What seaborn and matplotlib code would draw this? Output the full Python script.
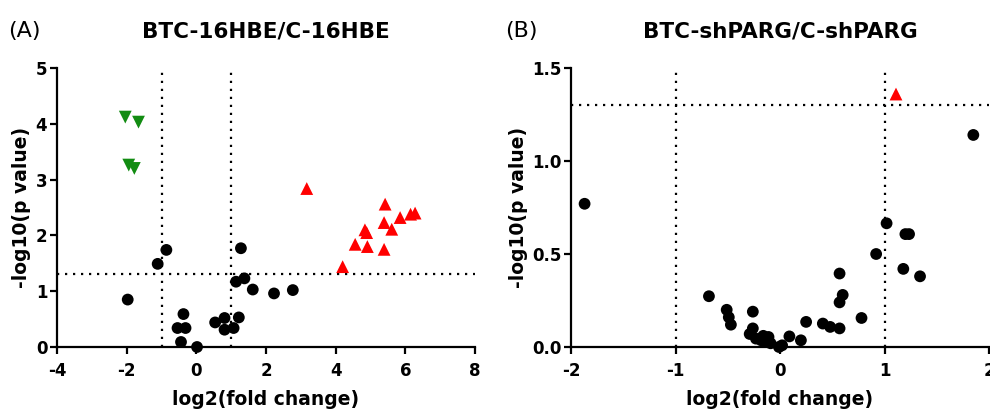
import matplotlib
matplotlib.use("Agg")
import matplotlib.pyplot as plt
import seaborn as sns
import pandas as pd

# panel A: BTC-16HBE / C-16HBE
a_down_x = [-2.04, -1.66, -1.94, -1.78]
a_down_y = [4.12, 4.03, 3.26, 3.20]
a_up_x = [3.17, 4.20, 4.56, 4.84, 4.89, 4.91, 5.42, 5.39, 5.39, 5.61, 5.85, 6.15, 6.28]
a_up_y = [2.84, 1.44, 1.84, 2.10, 2.05, 1.80, 2.56, 2.23, 1.75, 2.11, 2.32, 2.38, 2.40]
a_ns_x = [-1.97, -1.11, -0.86, -0.37, -0.54, -0.31, -0.44, 0.02, 0.54, 0.81,
          0.81, 1.07, 1.22, 1.14, 1.38, 1.28, 1.62, 2.23, 2.77]
a_ns_y = [0.85, 1.49, 1.74, 0.59, 0.34, 0.34, 0.09, 0.0, 0.44, 0.52,
          0.31, 0.34, 0.53, 1.17, 1.23, 1.77, 1.03, 0.96, 1.02]

# panel B: BTC-shPARG / C-shPARG
b_up_x = [1.11]
b_up_y = [1.36]
b_ns_x = [-1.87, 1.85, 1.02, 1.20, 1.235, 0.92, 1.18, 1.34, 0.57, 0.60, 0.57, 0.78,
          0.57, 0.41, 0.48, 0.25, 0.20, 0.09, 0.02, -0.01, -0.68, -0.51, -0.49,
          -0.47, -0.26, -0.26, -0.29, -0.23, -0.16, -0.11, -0.09, -0.13, -0.18]
b_ns_y = [0.77, 1.14, 0.665, 0.607, 0.607, 0.50, 0.42, 0.38, 0.395, 0.28, 0.24, 0.156,
          0.10, 0.126, 0.108, 0.135, 0.036, 0.057, 0.009, 0.0, 0.273, 0.20, 0.16,
          0.12, 0.19, 0.10, 0.07, 0.045, 0.06, 0.054, 0.02, 0.027, 0.036]


def make_df(groups):
    parts = []
    for name, xs, ys in groups:
        parts.append(pd.DataFrame({'fc': xs, 'p': ys, 'group': name}))
    return pd.concat(parts, ignore_index=True)


df_a = make_df([('ns', a_ns_x, a_ns_y), ('down', a_down_x, a_down_y), ('up', a_up_x, a_up_y)])
df_b = make_df([('ns', b_ns_x, b_ns_y), ('up', b_up_x, b_up_y)])

palette = {'ns': 'black', 'down': '#128c12', 'up': '#ff0000'}
markers = {'ns': 'o', 'down': 'v', 'up': '^'}
sizes = {'ns': 72, 'down': 85, 'up': 85}

sns.set_theme(style='ticks')
plt.rcParams['font.family'] = ['DejaVu Sans']
plt.rcParams['axes.linewidth'] = 1.6
plt.rcParams['axes.unicode_minus'] = False
for k in ['text.color', 'axes.labelcolor', 'xtick.color', 'ytick.color', 'axes.edgecolor']:
    plt.rcParams[k] = 'black'

fig = plt.figure(figsize=(9.9, 4.11), dpi=100)
ax1 = fig.add_axes([57 / 990, 1 - 347 / 411, 418 / 990, 279 / 411])
ax2 = fig.add_axes([571 / 990, 1 - 347 / 411, 418 / 990, 279 / 411])

dot = (0, (1, 2.6))


def panel(ax, df, xlim, xticks, ylim, yticks, yfmt, title, letter, letter_x):
    for g in df['group'].unique():
        sub = df[df['group'] == g]
        sns.scatterplot(data=sub, x='fc', y='p', ax=ax, color=palette[g],
                        marker=markers[g], s=sizes[g], edgecolor='none',
                        clip_on=False, zorder=3, legend=False)
    ax.axvline(-1, color='black', lw=1.6, ls=dot, zorder=1)
    ax.axvline(1, color='black', lw=1.6, ls=dot, zorder=1)
    ax.axhline(1.3, color='black', lw=1.6, ls=dot, zorder=1)
    ax.set_xlim(*xlim)
    ax.set_ylim(*ylim)
    ax.set_xticks(xticks)
    ax.set_yticks(yticks)
    ax.set_xticklabels([str(v) for v in xticks])
    ax.set_yticklabels([yfmt.format(v) for v in yticks])
    sns.despine(ax=ax)
    ax.tick_params(width=1.6, length=5, labelsize=12)
    ax.tick_params(axis='x', pad=6)
    ax.tick_params(axis='y', pad=2)
    for lab in ax.get_xticklabels() + ax.get_yticklabels():
        lab.set_fontweight('bold')
    ax.set_xlabel('log2(fold change)', fontsize=13.5, fontweight='bold', labelpad=7)
    ax.set_ylabel('-log10(p value)', fontsize=13.5, fontweight='bold', labelpad=3)
    ax.set_title(title, fontsize=15.5, fontweight='bold', pad=22)
    fig.text(letter_x, 1 - 31 / 411, letter, fontsize=16, va='center', ha='left')


panel(ax1, df_a, (-4, 8), [-4, -2, 0, 2, 4, 6, 8], (0, 5), [0, 1, 2, 3, 4, 5], '{:g}',
      'BTC-16HBE/C-16HBE', '(A)', 8 / 990)
panel(ax2, df_b, (-2, 2), [-2, -1, 0, 1, 2], (0, 1.5), [0.0, 0.5, 1.0, 1.5], '{:.1f}',
      'BTC-shPARG/C-shPARG', '(B)', 505 / 990)

fig.savefig('out.png', dpi=100)
